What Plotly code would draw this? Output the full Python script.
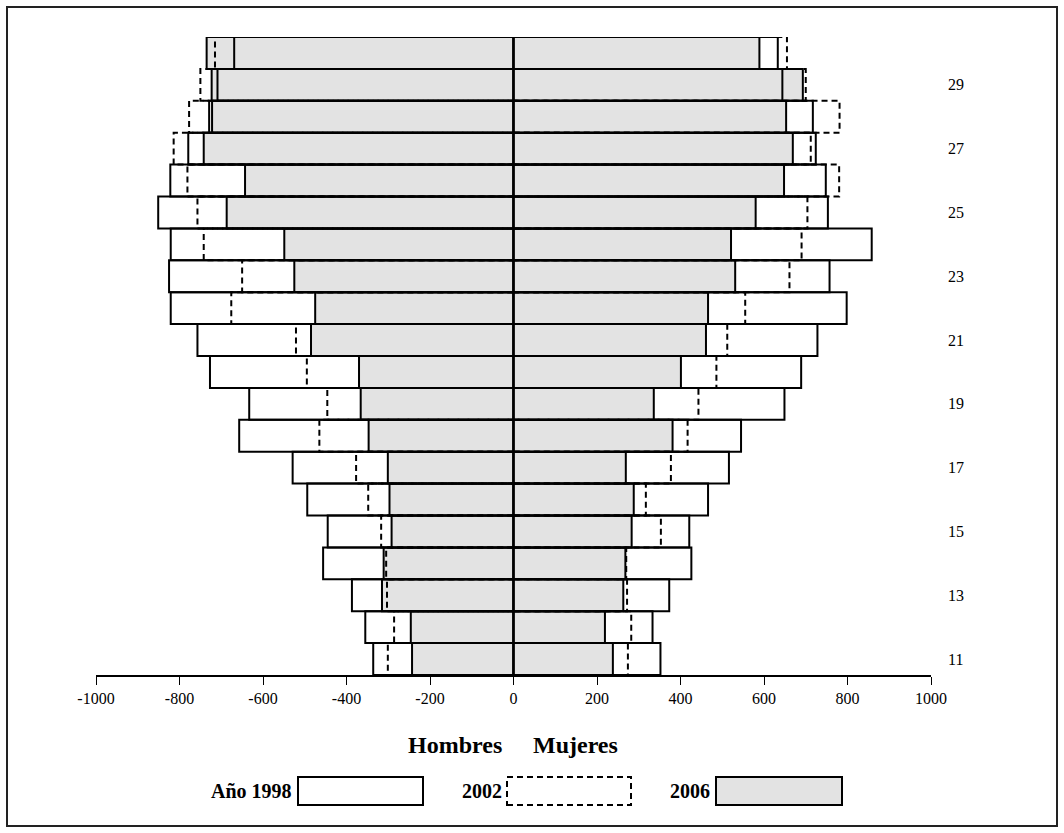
import plotly.graph_objects as go

# ---------------- data ----------------
ages = list(range(11, 31))

hombres_1998 = [-336, -355, -387, -456, -445, -494, -529, -657, -633, -727,
                -757, -821, -825, -821, -851, -822, -779, -729, -709, -669]
hombres_2002 = [-301, -286, -303, -305, -317, -348, -377, -465, -446, -495,
                -521, -676, -650, -742, -757, -781, -814, -777, -750, -715]
hombres_2006 = [-243, -246, -315, -311, -292, -297, -301, -347, -366, -370,
                -485, -475, -525, -549, -687, -643, -742, -722, -723, -735]

mujeres_1998 = [352, 333, 373, 426, 421, 466, 516, 545, 649, 689,
                728, 798, 757, 858, 753, 748, 724, 717, 644, 633]
mujeres_2002 = [274, 282, 272, 270, 353, 317, 377, 417, 443, 486,
                512, 555, 661, 690, 704, 780, 712, 781, 700, 655]
mujeres_2006 = [238, 219, 263, 268, 283, 288, 269, 381, 336, 401,
                461, 466, 531, 521, 580, 648, 669, 653, 693, 589]

x_tickvals = [-1000, -800, -600, -400, -200, 0, 200, 400, 600, 800, 1000]
x_ticktext = ["-1000", "-800", "-600", "-400", "-200", "0", "200", "400", "600", "800", "1000"]
y_tickvals = [11, 13, 15, 17, 19, 21, 23, 25, 27, 29]

legend_labels = ["Año 1998", "2002", "2006"]
side_labels = ["Hombres", "Mujeres"]

FONT = "Liberation Serif, Times New Roman, serif"
GRAY = "#e3e3e3"
DASH = "6px,4px"

fig = go.Figure()

# 2006 : gray filled bars (drawn first)
for vals in (hombres_2006, mujeres_2006):
    fig.add_trace(go.Bar(
        y=ages, x=vals, orientation="h", width=1,
        marker=dict(color=GRAY, line=dict(color="black", width=2)),
        showlegend=False, hoverinfo="x+y"))

# 1998 : solid outlines
for vals in (hombres_1998, mujeres_1998):
    fig.add_trace(go.Bar(
        y=ages, x=vals, orientation="h", width=1,
        marker=dict(color="rgba(0,0,0,0)", line=dict(color="black", width=2)),
        showlegend=False, hoverinfo="x+y"))

# 2002 : dashed outlines (built from the data)
def outline(vals):
    xs, ys = [], []
    for a, v in zip(ages, vals):
        xs += [0, v, v, 0, None]
        ys += [a - 0.5, a - 0.5, a + 0.5, a + 0.5, None]
    return xs, ys

for vals in (hombres_2002, mujeres_2002):
    xs, ys = outline(vals)
    fig.add_trace(go.Scatter(
        x=xs, y=ys, mode="lines",
        line=dict(color="black", width=2, dash=DASH),
        showlegend=False, hoverinfo="skip"))

# ---------------- layout ----------------
L, R, T, B = 96, 133, 37, 158
W, H = 1064, 833
pw, ph = W - L - R, H - T - B

def px(xp):
    return (xp - L) / pw

def py(yp):
    return (H - B - yp) / ph

fig.update_layout(
    width=W, height=H,
    margin=dict(l=L, r=R, t=T, b=B),
    paper_bgcolor="white", plot_bgcolor="white",
    barmode="overlay",
    font=dict(family=FONT, color="black", size=16),
    xaxis=dict(range=[-1000, 1000], tickvals=x_tickvals, ticktext=x_ticktext,
               showgrid=False, showline=True, linecolor="black", linewidth=1.5,
               ticks="outside", ticklen=8, tickcolor="black", tickwidth=1,
               zeroline=True, zerolinecolor="black", zerolinewidth=2.5,
               tickfont=dict(family=FONT, size=16), fixedrange=True),
    yaxis=dict(range=[10.5, 30.5], side="right", tickvals=y_tickvals,
               showgrid=False, showline=False, zeroline=False, ticks="",
               ticklabelstandoff=16,
               tickfont=dict(family=FONT, size=16), fixedrange=True),
    shapes=[
        # outer frame
        dict(type="rect", xref="paper", yref="paper",
             x0=px(7), x1=px(1057), y0=py(826), y1=py(7),
             line=dict(color="#222222", width=2), fillcolor="rgba(0,0,0,0)"),
        # legend swatches
        dict(type="rect", xref="paper", yref="paper",
             x0=px(298), x1=px(423), y0=py(805), y1=py(777),
             line=dict(color="black", width=2), fillcolor="white"),
        dict(type="rect", xref="paper", yref="paper",
             x0=px(507), x1=px(631), y0=py(805), y1=py(777),
             line=dict(color="black", width=2, dash=DASH), fillcolor="white"),
        dict(type="rect", xref="paper", yref="paper",
             x0=px(716), x1=px(842), y0=py(805), y1=py(777),
             line=dict(color="black", width=2), fillcolor=GRAY),
    ],
    annotations=[
        dict(text="<b>%s</b>" % side_labels[0], xref="paper", yref="paper",
             x=px(504), y=py(745), xanchor="right", yanchor="middle",
             showarrow=False, font=dict(family=FONT, size=24)),
        dict(text="<b>%s</b>" % side_labels[1], xref="paper", yref="paper",
             x=px(531), y=py(745), xanchor="left", yanchor="middle",
             showarrow=False, font=dict(family=FONT, size=24)),
        dict(text="<b>%s</b>" % legend_labels[0], xref="paper", yref="paper",
             x=px(294), y=py(791), xanchor="right", yanchor="middle",
             showarrow=False, font=dict(family=FONT, size=20)),
        dict(text="<b>%s</b>" % legend_labels[1], xref="paper", yref="paper",
             x=px(504), y=py(791), xanchor="right", yanchor="middle",
             showarrow=False, font=dict(family=FONT, size=20)),
        dict(text="<b>%s</b>" % legend_labels[2], xref="paper", yref="paper",
             x=px(712), y=py(791), xanchor="right", yanchor="middle",
             showarrow=False, font=dict(family=FONT, size=20)),
    ],
)

fig.write_html("out.html",
               config={"displayModeBar": False},
               post_script="document.body.style.margin='0';document.body.style.overflow='hidden';")
